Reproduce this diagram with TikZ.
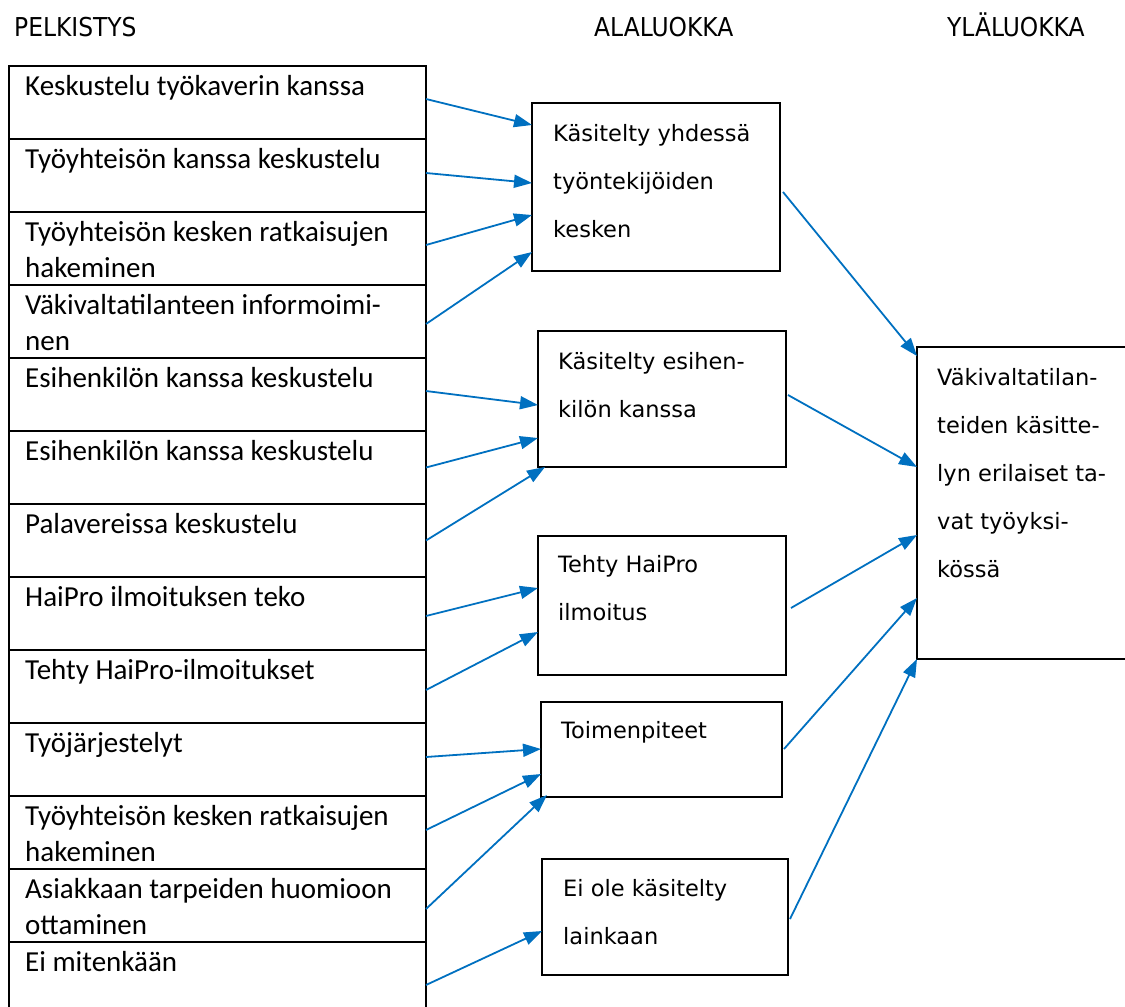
\documentclass[tikz,border=0pt]{standalone}
\usepackage{fontspec}
\setmainfont{Carlito}
\newfontfamily\boxfont{DejaVu Sans}
\newfontfamily\headfont{DejaVu Sans Condensed}
\usetikzlibrary{arrows.meta,calc}
\definecolor{linkblue}{HTML}{0070C0}

\begin{document}
\begin{tikzpicture}[x=1pt,y=-1pt,
  head/.style={anchor=base west, inner sep=0pt, font=\headfont\fontsize{26}{30}\selectfont},
  cell/.style={draw, line width=2.2pt, minimum width=417pt, minimum height=73pt,
    anchor=north west, inner sep=0pt, outer sep=0pt},
  celltext/.style={anchor=base west, inner sep=0pt,
    font=\fontsize{29}{36}\selectfont},
  mbox/.style={draw, line width=1.2pt, anchor=north west, inner sep=0pt, outer sep=0pt},
  btext/.style={anchor=base west, inner sep=0pt,
    font=\boxfont\fontsize{22.5}{48}\selectfont},
  conn/.style={draw=linkblue, line width=1.8pt, -{Triangle[length=18pt,width=13pt]}}]
\useasboundingbox (0,0) rectangle (1125,1007);

% column headings
\node[head] (hp) at (14,36) {PELKISTYS};
\node[head] (ha) at (594,36) {ALALUOKKA};
\node[head] (hy) at (947,36) {YLÄLUOKKA};

% left column: one cell per reduced expression (text baseline = first line)
\foreach \i/\t in {
  1/{\hbox{Keskustelu työkaverin kanssa}},
  2/{\hbox{Työyhteisön kanssa keskustelu}},
  3/{\hbox{Työyhteisön kesken ratkaisujen}\hbox{hakeminen}},
  4/{\hbox{Väkivaltatilanteen informoimi-}\hbox{nen}},
  5/{\hbox{Esihenkilön kanssa keskustelu}},
  6/{\hbox{Esihenkilön kanssa keskustelu}},
  7/{\hbox{Palavereissa keskustelu}},
  8/{\hbox{HaiPro ilmoituksen teko}},
  9/{\hbox{Tehty HaiPro-ilmoitukset}},
  10/{\hbox{Työjärjestelyt}},
  11/{\hbox{Työyhteisön kesken ratkaisujen}\hbox{hakeminen}},
  12/{\hbox{Asiakkaan tarpeiden huomioon}\hbox{ottaminen}},
  13/{\hbox{Ei mitenkään}}} {
  \node[cell] (p\i) at (9,{66+73*(\i-1)}) {};
  \node[celltext] (pt\i) at ([xshift=16pt,yshift=-29pt]p\i.north west) {\vtop{\t}};
}

% subcategories
\node[mbox, minimum width=248pt, minimum height=168pt] (b1) at (532,103) {};
\node[btext] (bt1) at ([xshift=21pt,yshift=-38pt]b1.north west)
  {\vtop{\hbox{Käsitelty yhdessä}\hbox{työntekijöiden}\hbox{kesken}}};
\node[mbox, minimum width=248pt, minimum height=136pt] (b2) at (538,331) {};
\node[btext] (bt2) at ([xshift=20pt,yshift=-38pt]b2.north west)
  {\vtop{\hbox{Käsitelty esihen-}\hbox{kilön kanssa}}};
\node[mbox, minimum width=248pt, minimum height=139pt] (b3) at (538,536) {};
\node[btext] (bt3) at ([xshift=20pt,yshift=-36pt]b3.north west)
  {\vtop{\hbox{Tehty HaiPro}\hbox{ilmoitus}}};
\node[mbox, minimum width=241pt, minimum height=95pt] (b4) at (541,702) {};
\node[btext] (bt4) at ([xshift=20pt,yshift=-36pt]b4.north west) {Toimenpiteet};
\node[mbox, minimum width=246pt, minimum height=116pt] (b5) at (542,859) {};
\node[btext] (bt5) at ([xshift=21pt,yshift=-37pt]b5.north west)
  {\vtop{\hbox{Ei ole käsitelty}\hbox{lainkaan}}};

% main category
\node[mbox, minimum width=240pt, minimum height=312pt] (r) at (917,347) {};
\node[btext] (rt) at ([xshift=20pt,yshift=-38pt]r.north west)
  {\vtop{\hbox{Väkivaltatilan-}\hbox{teiden käsitte-}\hbox{lyn erilaiset ta-}\hbox{vat työyksi-}\hbox{kössä}}};

% connectors: expressions to subcategories
\draw[conn] ([yshift=3.5pt]p1.east)  -- ([yshift=-22pt]b1.north west);
\draw[conn] ([yshift=2.5pt]p2.east)  -- ([yshift=-80pt]b1.north west);
\draw[conn] ([yshift=3.5pt]p3.east)  -- ([yshift=-112pt]b1.north west);
\draw[conn] ([yshift=-2.5pt]p4.east) -- ([yshift=-149pt]b1.north west);
\draw[conn] ([yshift=3.5pt]p5.east)  -- ([yshift=-74pt]b2.north west);
\draw[conn] (p6.east) -- ([yshift=-107pt]b2.north west);
\draw[conn] (p7.east) -- ([xshift=7pt]b2.south west);
\draw[conn] ([yshift=-2.5pt]p8.east) -- ([yshift=-52pt]b3.north west);
\draw[conn] ([yshift=-3.5pt]p9.east) -- ([yshift=-96pt]b3.north west);
\draw[conn] ([yshift=2.5pt]p10.east) -- ([yshift=-47pt]b4.north west);
\draw[conn] ([yshift=2.5pt]p11.east) -- ([yshift=-72pt]b4.north west);
\draw[conn] ([yshift=-3.5pt]p12.east) -- ([xshift=6pt,yshift=2pt]b4.south west);
\draw[conn] ([yshift=-6.5pt]p13.east) -- ([yshift=-72pt]b5.north west);

% connectors: subcategories to main category
\draw[conn] ([xshift=3pt,yshift=-89pt]b1.north east) -- ([yshift=-9pt]r.north west);
\draw[conn] ([xshift=2pt,yshift=-64pt]b2.north east) -- ([yshift=-120pt]r.north west);
\draw[conn] ([xshift=5pt,yshift=-72pt]b3.north east) -- ([yshift=-188pt]r.north west);
\draw[conn] ([xshift=2pt,yshift=-47pt]b4.north east) -- ([yshift=-251pt]r.north west);
\draw[conn] ([xshift=2pt,yshift=-60pt]b5.north east) -- (r.south west);
\end{tikzpicture}
\end{document}
